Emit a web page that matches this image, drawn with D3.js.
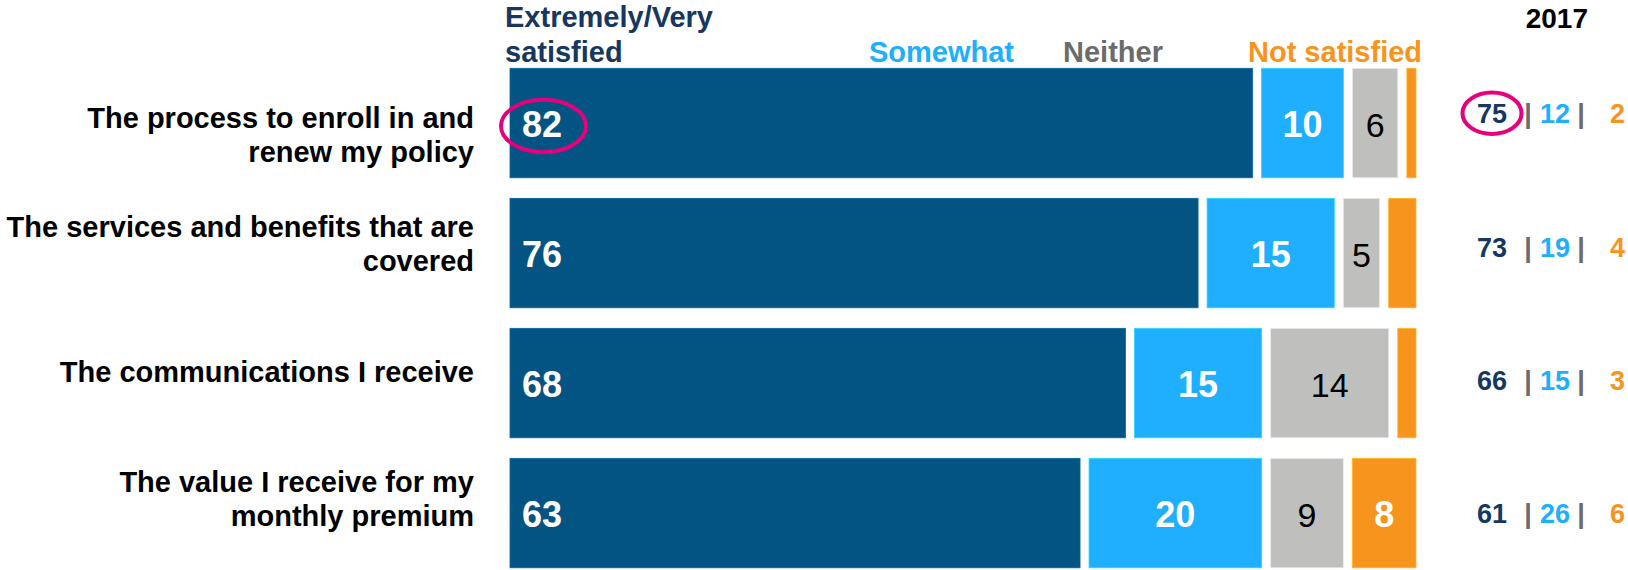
<!DOCTYPE html>
<html>
<head>
<meta charset="utf-8">
<script src="https://cdn.jsdelivr.net/npm/d3@7"></script>
<style>
  html, body { margin: 0; padding: 0; background: #ffffff; }
  svg { display: block; }
  text { font-family: "Liberation Sans", Arial, Helvetica, sans-serif; }
</style>
</head>
<body>
<svg id="chart" width="1628" height="570"></svg>
<script>
// ---------------- DATA ----------------
const categories = [
  "The process to enroll in and renew my policy",
  "The services and benefits that are covered",
  "The communications I receive",
  "The value I receive for my monthly premium"
];
const categoryLines = [
  ["The process to enroll in and", "renew my policy"],
  ["The services and benefits that are", "covered"],
  ["The communications I receive"],
  ["The value I receive for my", "monthly premium"]
];
const seriesNames = ["Extremely/Very satisfied", "Somewhat", "Neither", "Not satisfied"];
const verySatisfied = [82, 76, 68, 63];
const somewhat      = [10, 15, 15, 20];
const neither       = [6, 5, 14, 9];
const notSatisfied  = [2, 4, 3, 8];

const priorYearLabel = "2017";
const prior2017Very     = [75, 73, 66, 61];
const prior2017Somewhat = [12, 19, 15, 26];
const prior2017Not      = [2, 4, 3, 6];

// ---------------- STYLE / LAYOUT ----------------
const barColors  = ["#035482", "#20AEFE", "#BFBFBD", "#F7941E"];
const headColors = ["#17375E", "#20AEFE", "#6B6B6B", "#F7941E"];
const valueColors = ["#ffffff", "#ffffff", "#000000", "#ffffff"];
const valueWeights = ["bold", "bold", "normal", "bold"];
const pink = "#E6007E";
const sepColor = "#6B6B6B";

const svg = d3.select("#chart");

const x = d3.scaleLinear().domain([0, 100]).range([510, 1418]);
const y = d3.scaleBand().domain(categories).range([68.3, 567.8]).paddingInner(0.158).paddingOuter(0);
const yPrior = d3.scalePoint().domain(categories).range([123.3, 523]);

const segGap = 7, segInsetRight = 2;
const labelNudge = [5, -16, -1, -21];
const labelLineH = 34;

const seriesValues = [verySatisfied, somewhat, neither, notSatisfied];
const rows = categories.map((c, i) => {
  let cum = 0;
  const segs = seriesValues.map((arr, s) => {
    const seg = { cat: c, row: i, s, v: arr[i], x0: cum, x1: cum + arr[i] };
    cum += arr[i];
    return seg;
  });
  return segs;
});
const segments = rows.flat();

// ---------------- BARS ----------------
const gBars = svg.append("g");
gBars.selectAll("rect")
  .data(segments)
  .join("rect")
  .attr("x", d => x(d.x0) + (d.s > 0 ? segGap : 0))
  .attr("y", d => y(d.cat))
  .attr("width", d => x(d.x1) - x(d.x0) - (d.s > 0 ? segGap : 0) - segInsetRight)
  .attr("height", y.bandwidth())
  .attr("fill", d => barColors[d.s])
  .attr("stroke", d => d3.color(barColors[d.s]).brighter(0.6))
  .attr("stroke-width", 0.8);

// value labels
const gVals = svg.append("g");
gVals.selectAll("text")
  .data(segments.filter(d => d.v >= 5))
  .join("text")
  .attr("x", d => d.s === 0 ? x(d.x0) + 12
                 : (x(d.x0) + segGap + x(d.x1) - segInsetRight) / 2)
  .attr("y", d => y(d.cat) + y.bandwidth() / 2 + 13.5)
  .attr("text-anchor", d => d.s === 0 ? "start" : "middle")
  .attr("font-size", d => d.s === 2 ? 34 : 36)
  .attr("font-weight", d => valueWeights[d.s])
  .attr("fill", d => valueColors[d.s])
  .text(d => d.v);

// ---------------- CATEGORY LABELS ----------------
const gCats = svg.append("g");
categories.forEach((c, i) => {
  const t = gCats.append("text")
    .attr("text-anchor", "end")
    .attr("font-size", 29)
    .attr("font-weight", "bold")
    .attr("fill", "#000");
  categoryLines[i].forEach((line, k) => {
    t.append("tspan")
      .attr("x", 474)
      .attr("y", y(c) + y.bandwidth() / 2 + labelNudge[i] + k * labelLineH)
      .text(line);
  });
});

// ---------------- HEADERS (legend) ----------------
const headerPos = [
  { x: 505, y: 27, anchor: "start", lines: ["Extremely/Very", "satisfied"] },
  { x: 869, y: 62, anchor: "start", lines: [seriesNames[1]] },
  { x: 1063, y: 62, anchor: "start", lines: [seriesNames[2]] },
  { x: 1248, y: 62, anchor: "start", lines: [seriesNames[3]] }
];
headerPos.forEach((h, s) => {
  const t = svg.append("text")
    .attr("text-anchor", h.anchor)
    .attr("font-size", 29)
    .attr("font-weight", "bold")
    .attr("fill", headColors[s]);
  h.lines.forEach((line, k) => {
    t.append("tspan").attr("x", h.x).attr("y", h.y + k * 34.5).text(line);
  });
});

svg.append("text")
  .attr("x", 1588).attr("y", 28.3)
  .attr("text-anchor", "end")
  .attr("font-size", 28)
  .attr("font-weight", "bold")
  .attr("fill", "#000")
  .text(priorYearLabel);

// ---------------- 2017 COLUMN ----------------
const priorCols = [
  { x: 1477, anchor: "start", color: headColors[0], vals: prior2017Very },
  { x: 1528, anchor: "middle", color: sepColor, sep: true },
  { x: 1540, anchor: "start", color: headColors[1], vals: prior2017Somewhat },
  { x: 1581, anchor: "middle", color: sepColor, sep: true },
  { x: 1610, anchor: "start", color: headColors[3], vals: prior2017Not }
];
const gPrior = svg.append("g");
categories.forEach((c, i) => {
  priorCols.forEach(col => {
    gPrior.append("text")
      .attr("x", col.x)
      .attr("y", yPrior(c))
      .attr("text-anchor", col.anchor)
      .attr("font-size", 27)
      .attr("font-weight", "bold")
      .attr("fill", col.color)
      .text(col.sep ? "|" : col.vals[i]);
  });
});

// ---------------- HIGHLIGHT ELLIPSES ----------------
const hiRow = categories[0];
svg.append("ellipse")
  .attr("cx", x(0) + 12 + 21.5)
  .attr("cy", y(hiRow) + y.bandwidth() / 2 + 3)
  .attr("rx", 42.5).attr("ry", 26.2)
  .attr("fill", "none").attr("stroke", pink).attr("stroke-width", 4);
svg.append("ellipse")
  .attr("cx", 1477 + 15)
  .attr("cy", yPrior(hiRow) - 10)
  .attr("rx", 29.5).attr("ry", 20.7)
  .attr("fill", "none").attr("stroke", pink).attr("stroke-width", 4);
</script>
</body>
</html>
